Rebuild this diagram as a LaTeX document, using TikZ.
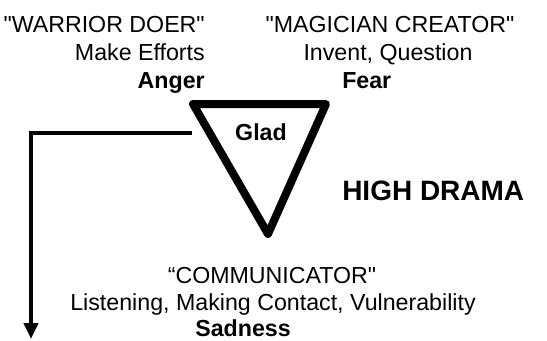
\documentclass[tikz,border=0pt]{standalone}
\usepackage{fontspec}
\setmainfont{Liberation Sans}
\usetikzlibrary{arrows.meta}
\begin{document}
\begin{tikzpicture}[x=0.75pt,y=-0.75pt,
  txt/.style={inner sep=0pt,font=\fontsize{17.4pt}{20pt}\selectfont},
  btxt/.style={inner sep=0pt,font=\fontsize{17.4pt}{20pt}\selectfont\bfseries},
  big/.style={inner sep=0pt,font=\fontsize{21pt}{25pt}\selectfont\bfseries},
  tri/.style={line width=6pt,line join=round},
  conn/.style={line width=3pt,-{Triangle[length=12pt,width=10.5pt]}}]
\useasboundingbox (0,0) rectangle (547,340);
% left group
\node[txt,anchor=base east] (warrior) at (205,32) {\textquotedbl WARRIOR DOER\textquotedbl};
\node[txt,anchor=base east] (efforts) at (205,60) {Make Efforts};
\node[btxt,anchor=base east] (anger) at (205,88) {Anger};
% right group
\node[txt,anchor=base] (magician) at (390,32) {\textquotedbl MAGICIAN CREATOR\textquotedbl};
\node[txt,anchor=base] (invent) at (388,60) {Invent, Question};
\node[btxt,anchor=base west] (fear) at (342,88) {Fear};
% triangle
\coordinate (tl) at (193,104);
\coordinate (tr) at (326,104);
\coordinate (bt) at (268,234);
\draw[tri] (tl) -- (tr) -- (bt) -- cycle;
\node[btxt,anchor=base] (glad) at (261,140) {Glad};
\node[big,anchor=base west] (drama) at (342,200) {HIGH DRAMA};
% bottom group
\node[txt,anchor=base] (comm) at (272,283) {“COMMUNICATOR\textquotedbl};
\node[txt,anchor=base] (listen) at (273,310) {Listening, Making Contact, Vulnerability};
\node[btxt,anchor=base] (sad) at (243,336) {Sadness};
% connector
\coordinate (astart) at (192,133);
\coordinate (aend) at (31,339);
\draw[conn] (astart) -| (aend);
\end{tikzpicture}
\end{document}
